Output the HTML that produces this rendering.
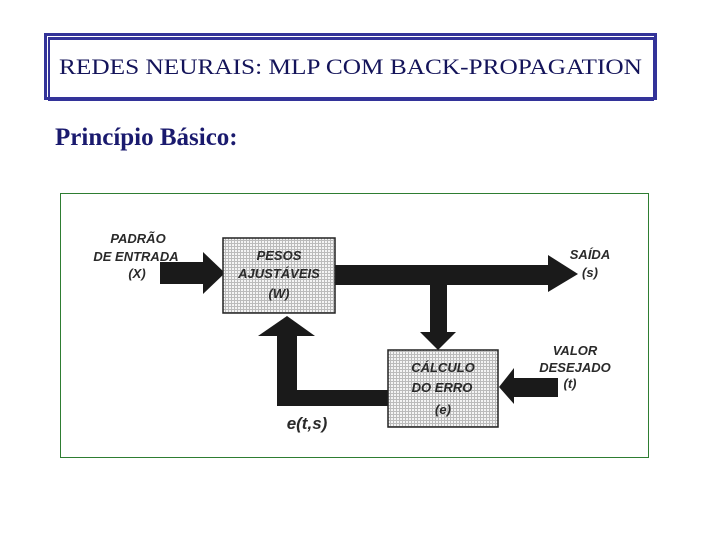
<!DOCTYPE html>
<html><head><meta charset="utf-8"><style>
body{margin:0;width:720px;height:540px;background:#fff;position:relative;overflow:hidden;font-family:"Liberation Serif",serif}
.t{position:absolute;left:44px;top:33px;width:607px;height:61px;border:3px solid #333399}
.t2{position:absolute;left:48px;top:37px;width:603px;height:57px;border:1px solid #333399;border-left-width:2px;border-bottom-width:4px;border-top-width:3px}
.tt{position:absolute;left:44px;top:54px;width:613px;text-align:center;font-size:22px;color:#14145a;transform:scaleX(1.15);transform-origin:center;white-space:nowrap}
.p{position:absolute;left:55px;top:124px;font-size:25px;font-weight:bold;color:#1a1a6e}
</style></head><body>
<div class="t"></div><div class="t2"></div>
<div class="tt">REDES NEURAIS: MLP COM BACK-PROPAGATION</div>
<div class="p">Princípio Básico:</div>
<svg width="720" height="540" style="position:absolute;left:0;top:0">
<defs><pattern id="g" width="3" height="3" patternUnits="userSpaceOnUse"><rect width="3" height="3" fill="#f4f4f4"/><rect width="3" height="1" fill="#bbb"/><rect width="1" height="3" fill="#bbb"/></pattern></defs>
<rect x="60.5" y="193.5" width="588" height="264" fill="#fff" stroke="#2e7d32" stroke-width="1"/>
<g fill="#1a1a1a">
<rect x="160" y="262" width="46" height="22"/><polygon points="203,252 225,273 203,294"/>
<rect x="333" y="265" width="217" height="20"/><polygon points="548,255 578,274 548,292"/>
<rect x="430" y="283" width="17" height="52"/><polygon points="420,332 456,332 438,350"/>
<rect x="277" y="390" width="112" height="16"/><rect x="277" y="330" width="20" height="76"/><polygon points="258,336 315,336 287,316"/>
<rect x="510" y="378" width="48" height="19"/><polygon points="514,368 514,404 499,387"/>
</g>
<rect x="223" y="238" width="112" height="75" fill="url(#g)" stroke="#222" stroke-width="1.5"/>
<rect x="388" y="350" width="110" height="77" fill="url(#g)" stroke="#222" stroke-width="1.5"/>
<g font-family="Liberation Sans,sans-serif" font-weight="bold" font-style="italic" font-size="13" fill="#2a2a2a" text-anchor="middle">
<text x="279" y="260">PESOS</text><text x="279" y="278">AJUSTÁVEIS</text><text x="279" y="298">(W)</text>
<text x="443" y="372">CÁLCULO</text><text x="442" y="392">DO ERRO</text><text x="443" y="414">(e)</text>
<text x="138" y="243">PADRÃO</text><text x="136" y="261">DE ENTRADA</text><text x="137" y="278">(X)</text>
<text x="590" y="259">SAÍDA</text><text x="590" y="277">(s)</text>
<text x="575" y="355">VALOR</text><text x="575" y="372">DESEJADO</text><text x="570" y="388">(t)</text>
<text x="307" y="429" font-size="17">e(t,s)</text>
</g>
</svg>
</body></html>
